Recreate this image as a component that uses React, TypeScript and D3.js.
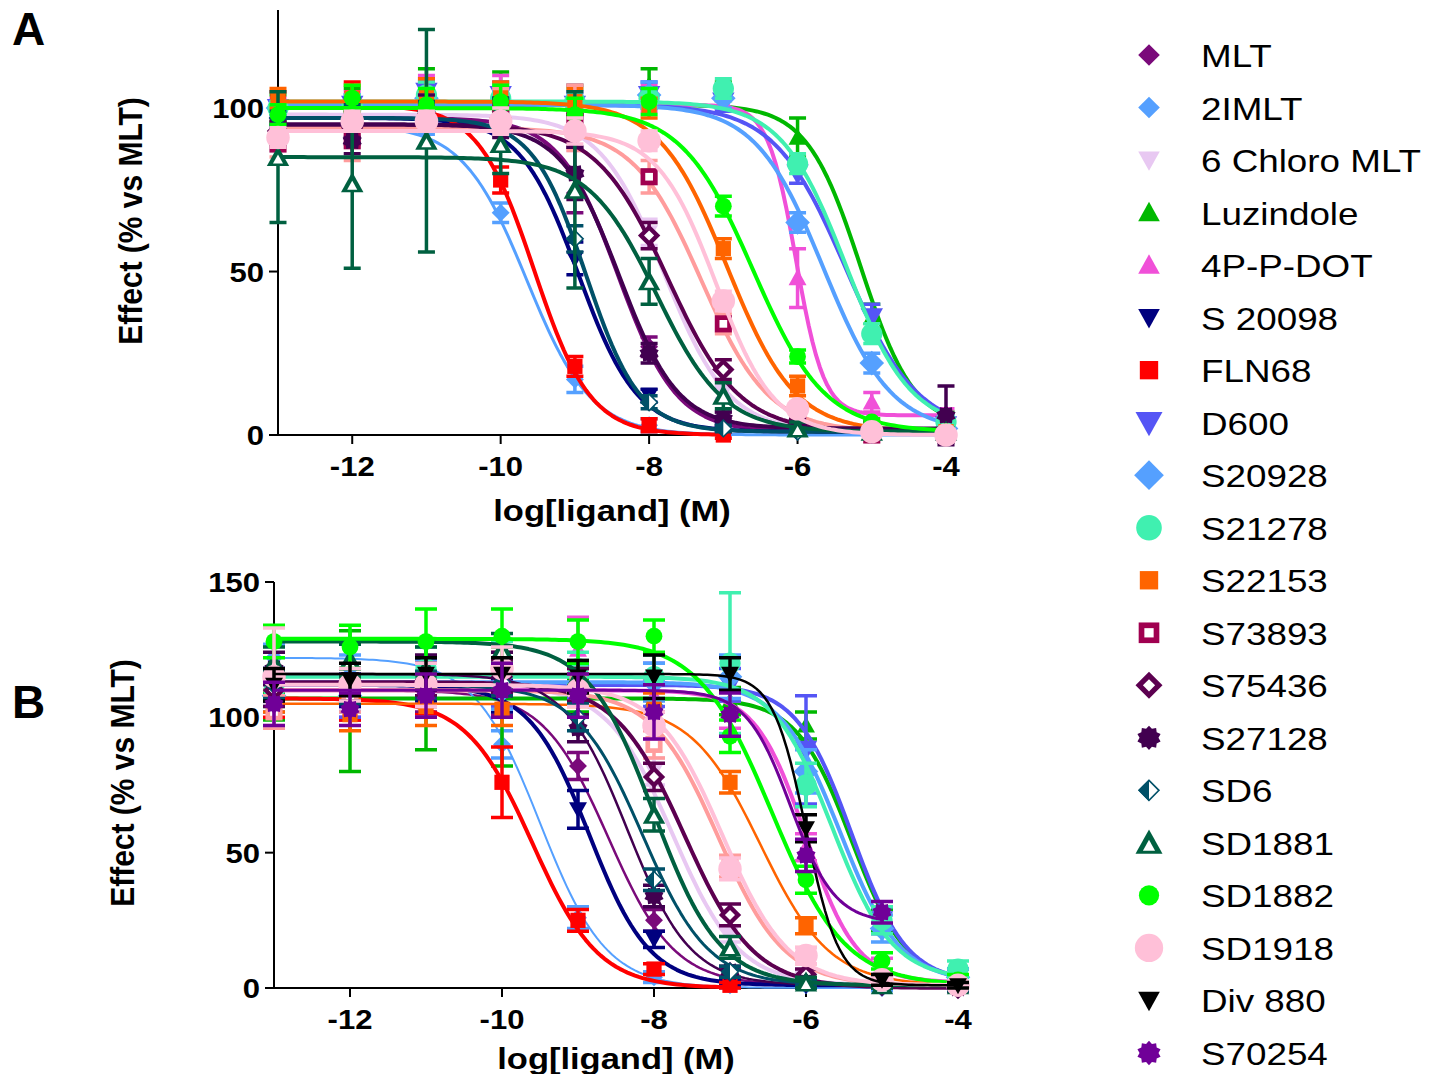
import { useEffect, useRef } from 'react';
import * as d3 from 'd3';

// compounds, same order as the legend
const compounds = [
  'MLT', '2IMLT', '6 Chloro MLT', 'Luzindole', '4P-P-DOT', 'S 20098', 'FLN68', 'D600',
  'S20928', 'S21278', 'S22153', 'S73893', 'S75436', 'S27128', 'SD6', 'SD1881',
  'SD1882', 'SD1918', 'Div 880', 'S70254',
];
const doses = [-13, -12, -11, -10, -9, -8, -7, -6, -5, -4];
const xTicks = [-12, -10, -8, -6, -4];
const yTicksA = [0, 50, 100];
const yTicksB = [0, 50, 100, 150];

// panel A: mean effect (% vs MLT) at each dose
const effectA: Record<string, (number | null)[]> = {
  'MLT': [96, 94, 103, 99, 74, 27, 5, 2, 1, 0],
  '2IMLT': [95, 94, 95, 68, 17, 3, 1, 1, 0, 0],
  '6 Chloro MLT': [98, 97, 99, 97, 90, 62, 13, 3, 1, 1],
  'Luzindole': [100, 101, 106, 106, 101, 107, 104, 91, 36, 4],
  '4P-P-DOT': [100, 101, 104, 104, 101, 103, 102, 48, 10, 6],
  'S 20098': [97, 97, 98, 99, 54, 12, 2, 1, 1, 0],
  'FLN68': [102, 103, 101, 78, 21, 3, 0, null, null, null],
  'D600': [100, 101, 105, 104, 101, 104, 102, 80, 36, 3],
  'S20928': [100, 101, 103, 102, 101, 104, 103, 65, 22, 2],
  'S21278': [100, 101, 104, 103, 102, 103, 106, 83, 31, 4],
  'S22153': [103, 103, 104, 104, 102, 100, 57, 15, 2, 1],
  'S73893': [89, 90, 96, 100, 97, 79, 34, 5, 0, 0],
  'S75436': [93, 94, 97, 97, 93, 61, 20, 3, 1, 0],
  'S27128': [92, 90, 99, 97, 80, 25, 5, 2, 2, 6],
  'SD6': [97, 98, 99, 100, 60, 10, 2, 1, 1, 1],
  'SD1881': [85, 77, 90, 89, 75, 47, 12, 2, 1, 1],
  'SD1882': [98, 103, 101, 102, 98, 102, 70, 24, 4, 1],
  'SD1918': [91, 96, 96, 96, 93, 90, 41, 8, 1, 0],
};
const semA: Record<string, number[]> = {
  'MLT': [4, 5, 5, 4, 6, 3, 2, 1, 1, 1],
  '2IMLT': [3, 3, 3, 3, 4, 2, 1, 1, 1, 1],
  '6 Chloro MLT': [3, 3, 3, 3, 3, 4, 2, 1, 1, 1],
  'Luzindole': [4, 5, 6, 5, 6, 5, 4, 6, 4, 3],
  '4P-P-DOT': [3, 4, 6, 6, 6, 4, 3, 9, 3, 2],
  'S 20098': [3, 3, 4, 4, 5, 2, 1, 1, 1, 1],
  'FLN68': [3, 5, 4, 4, 3, 2, 1],
  'D600': [2, 3, 4, 4, 4, 4, 3, 3, 4, 3],
  'S20928': [2, 3, 3, 3, 3, 4, 3, 3, 3, 2],
  'S21278': [2, 3, 4, 4, 4, 3, 3, 3, 3, 2],
  'S22153': [3, 4, 5, 4, 4, 3, 3, 3, 2, 1],
  'S73893': [4, 6, 8, 6, 10, 5, 3, 2, 1, 1],
  'S75436': [3, 3, 4, 3, 5, 4, 3, 2, 1, 1],
  'S27128': [3, 4, 5, 6, 8, 3, 2, 1, 2, 9],
  'SD6': [2, 3, 3, 3, 4, 2, 1, 1, 1, 1],
  'SD1881': [20, 26, 34, 9, 30, 7, 4, 2, 1, 1],
  'SD1882': [3, 4, 5, 5, 5, 4, 3, 2, 1, 1],
  'SD1918': [3, 3, 3, 4, 4, 3, 3, 2, 1, 1],
};
// fitted curves: [top, bottom, logIC50, hill slope]
const fitA: Record<string, number[]> = {
  'MLT': [97, 1, -8.42, 1.1],
  '2IMLT': [95, 0, -9.65, 1.0],
  '6 Chloro MLT': [98, 1, -7.8, 1.0],
  'Luzindole': [101, 2, -5.15, 1.2],
  '4P-P-DOT': [101, 6, -6.02, 2.3],
  'S 20098': [97, 1, -8.95, 1.1],
  'FLN68': [101, 0, -9.55, 1.15],
  'D600': [101, 1, -5.35, 0.9],
  'S20928': [101, 1, -5.65, 0.95],
  'S21278': [102, 2, -5.35, 1.0],
  'S22153': [102, 1, -6.95, 0.95],
  'S73893': [94, 1, -7.3, 0.95],
  'S75436': [95, 1, -7.75, 0.9],
  'S27128': [95, 2, -8.4, 1.1],
  'SD6': [97, 1, -8.85, 1.2],
  'SD1881': [85, 1, -7.9, 0.95],
  'SD1882': [100, 1, -6.6, 0.9],
  'SD1918': [93, 0, -7.1, 1.1],
};

// panel B
const effectB: Record<string, (number | null)[]> = {
  'MLT': [108, 105, 108, 109, 82, 25, 5, 2, 1, 0],
  '2IMLT': [122, 118, 116, 90, 26, 4, 1, 1, 0, 0],
  '6 Chloro MLT': [110, 108, 112, 112, 105, 80, 20, 4, 2, 1],
  'Luzindole': [104, 106, 108, 104, 108, 107, 106, 97, 25, 4],
  '4P-P-DOT': [108, 106, 110, 110, 125, 108, 101, 52, 8, 2],
  'S 20098': [112, 110, 114, 108, 66, 18, 2, 1, 1, 0],
  'FLN68': [105, 104, 106, 76, 25, 7, 1, null, null, null],
  'D600': [110, 106, 110, 112, 113, 112, 112, 88, 25, 4],
  'S20928': [108, 108, 112, 110, 112, 113, 115, 80, 22, 4],
  'S21278': [110, 112, 118, 120, 118, 115, 120, 75, 25, 7],
  'S22153': [108, 101, 104, 103, 110, 103, 76, 23, 2, 1],
  'S73893': [102, 108, 110, 118, 112, 90, 45, 12, 2, 1],
  'S75436': [110, 112, 114, 115, 112, 78, 27, 5, 1, 0],
  'S27128': [118, 112, 115, 116, 96, 34, 6, 2, 1, 0],
  'SD6': [112, 110, 112, 113, 100, 40, 6, 2, 1, 0],
  'SD1881': [120, 121, 118, 125, 115, 64, 15, 2, 1, 1],
  'SD1882': [128, 126, 128, 130, 128, 130, 93, 40, 10, 3],
  'SD1918': [115, 112, 112, 118, 110, 97, 44, 12, 3, 1],
  'Div 880': [112, 114, 116, 116, 115, 115, 116, 59, 3, 1],
  'S70254': [105, 103, 108, 110, 108, 102, 101, 49, 28, null],
};
const semB: Record<string, number[]> = {
  'MLT': [6, 6, 6, 8, 5, 4, 2, 1, 1, 1],
  '2IMLT': [5, 5, 5, 5, 4, 2, 1, 1, 1, 1],
  '6 Chloro MLT': [5, 5, 5, 5, 5, 5, 3, 2, 1, 1],
  'Luzindole': [5, 26, 20, 22, 6, 5, 5, 5, 4, 3],
  '4P-P-DOT': [6, 6, 6, 8, 12, 6, 5, 5, 3, 2],
  'S 20098': [6, 6, 8, 6, 7, 3, 1, 1, 1, 1],
  'FLN68': [5, 5, 5, 13, 4, 2, 1],
  'D600': [8, 6, 10, 8, 6, 8, 6, 20, 5, 3],
  'S20928': [6, 6, 8, 7, 6, 7, 8, 8, 5, 3],
  'S21278': [6, 6, 8, 8, 6, 8, 26, 8, 5, 3],
  'S22153': [6, 6, 7, 6, 6, 6, 4, 3, 2, 1],
  'S73893': [6, 6, 6, 6, 6, 5, 4, 3, 2, 1],
  'S75436': [6, 6, 6, 6, 6, 5, 4, 2, 1, 1],
  'S27128': [6, 6, 8, 8, 5, 4, 2, 1, 1, 1],
  'SD6': [5, 5, 5, 5, 5, 4, 2, 1, 1, 1],
  'SD1881': [6, 6, 8, 6, 6, 6, 4, 2, 1, 1],
  'SD1882': [6, 8, 12, 10, 8, 6, 6, 5, 3, 2],
  'SD1918': [18, 6, 8, 8, 6, 5, 4, 3, 2, 1],
  'Div 880': [6, 6, 6, 6, 6, 8, 6, 5, 2, 1],
  'S70254': [8, 6, 8, 10, 8, 10, 8, 6, 4],
};
const fitB: Record<string, number[]> = {
  'MLT': [110, 1, -8.6, 1.0],
  '2IMLT': [122, 0, -9.5, 1.0],
  '6 Chloro MLT': [112, 1, -7.75, 1.0],
  'Luzindole': [107, 2, -5.4, 1.2],
  '4P-P-DOT': [110, 2, -6.0, 1.3],
  'S 20098': [112, 1, -8.85, 1.1],
  'FLN68': [107, 0, -9.6, 1.0],
  'D600': [112, 2, -5.4, 1.2],
  'S20928': [113, 2, -5.55, 1.1],
  'S21278': [115, 3, -5.65, 1.1],
  'S22153': [105, 1, -6.6, 0.95],
  'S73893': [110, 1, -7.15, 1.0],
  'S75436': [113, 0, -7.6, 0.95],
  'S27128': [116, 1, -8.35, 1.05],
  'SD6': [112, 1, -8.15, 1.0],
  'SD1881': [128, 1, -8.0, 1.0],
  'SD1882': [129, 1, -6.45, 0.9],
  'SD1918': [112, 1, -7.1, 1.0],
  'Div 880': [116, 1, -6.0, 2.0],
  'S70254': [110, 24, -6.2, 1.5],
};

// styles
const markerColor = [
  '#7A0A7A', '#55A0FF', '#E8C8F2', '#00B800', '#F050D8', '#00007F', '#FF0000', '#5555F5',
  '#55A0FF', '#40F0B0', '#FF6400', '#A00050', '#5C0050', '#420050', '#005068', '#006040',
  '#00FF00', '#FFC0D8', '#000000', '#700098',
];
const lineColor = markerColor.map((c, i) => (compounds[i] === 'S73893' ? '#FF9C9C' : c));
const markerShape = [
  'diamond', 'diamond', 'triDown', 'tri', 'tri', 'triDown', 'square', 'triDown',
  'diamond', 'circle', 'square', 'openSquare', 'openDiamond', 'burst', 'halfDiamond', 'openTri',
  'circle', 'circle', 'triDown', 'burst',
];
const markerSize = [8, 8, 8, 8, 8, 8, 8, 10, 11, 9.5, 8, 9, 10, 9, 8, 10, 7.5, 10.5, 8, 9];
const lineWidthA = [4, 3, 4, 4, 4, 4, 4, 4, 4, 4, 4, 4, 4, 4, 4, 4, 4, 4, 4, 4];
const lineWidthB = [2.5, 2, 4, 4, 4, 4, 4, 4, 4, 4, 2.5, 4, 4, 2.5, 3, 4, 4, 4, 2.5, 3];

const font = "'Liberation Sans', Arial, Helvetica, sans-serif";

function markerPath(shape: string, r: number): string {
  switch (shape) {
    case 'diamond':
    case 'openDiamond':
    case 'halfDiamond':
      return `M0,${-r}L${r},0L0,${r}L${-r},0Z`;
    case 'square':
    case 'openSquare': {
      const s = r * 0.85;
      return `M${-s},${-s}H${s}V${s}H${-s}Z`;
    }
    case 'tri':
    case 'openTri':
      return `M0,${-r}L${r},${r * 0.8}L${-r},${r * 0.8}Z`;
    case 'triDown':
      return `M0,${r}L${r},${-r * 0.8}L${-r},${-r * 0.8}Z`;
    case 'burst': {
      const pts = d3.range(20).map((i) => {
        const a = (i * Math.PI) / 10;
        const rr = i % 2 === 0 ? r : r * 0.78;
        return [rr * Math.sin(a), -rr * Math.cos(a)];
      });
      return 'M' + pts.map((p) => p.join(',')).join('L') + 'Z';
    }
    default:
      return `M${r},0A${r},${r} 0 1,1 ${-r},0A${r},${r} 0 1,1 ${r},0Z`;
  }
}

function drawMarker(g: any, shape: string, r: number, color: string) {
  if (shape === 'halfDiamond') {
    g.append('path').attr('d', markerPath(shape, r * 0.92)).attr('fill', '#fff')
      .attr('stroke', color).attr('stroke-width', 1.6);
    g.append('path').attr('d', `M0,${-r}L${-r},0L0,${r}Z`).attr('fill', color);
    return;
  }
  g.append('path').attr('d', markerPath(shape, r)).attr('fill', color);
  if (shape.startsWith('open')) {
    const inner = g.append('path').attr('d', markerPath(shape, r * 0.45)).attr('fill', '#fff');
    if (shape === 'openTri') inner.attr('transform', `translate(0,${r * 0.22})`);
  }
}

export default function App() {
  const svgRef = useRef<SVGSVGElement>(null);

  useEffect(() => {
    if (!svgRef.current) return;
    const svg = d3.select(svgRef.current);
    svg.selectAll('*').remove();

    const stretched = (x: number, y: number, txt: string, size: number, weight: string, anchor: string) => {
      svg.append('text')
        .attr('transform', `translate(${x},${y}) scale(1.15,1)`)
        .attr('text-anchor', anchor)
        .attr('font-family', font)
        .attr('font-size', size)
        .attr('font-weight', weight)
        .attr('fill', '#000')
        .text(txt);
    };

    const panels = [
      { letter: 'A', letterY: 45, left: 278, right: 946, top: 10, bottom: 435, yMax: 130, yTicks: yTicksA,
        titleX: 130, titleY: 221, xTitleY: 521, effect: effectA, sem: semA, fit: fitA, widths: lineWidthA,
        cap: 8.5, override: {} as Record<string, string> },
      { letter: 'B', letterY: 718, left: 274, right: 958, top: 582, bottom: 988, yMax: 150, yTicks: yTicksB,
        titleX: 122, titleY: 783, xTitleY: 1069, effect: effectB, sem: semB, fit: fitB, widths: lineWidthB,
        cap: 11, override: { 'S73893': '#FF9C9C' } as Record<string, string> },
    ];

    panels.forEach((p) => {
      const x = d3.scaleLinear().domain([-13, -4]).range([p.left, p.right]);
      const y = d3.scaleLinear().domain([0, p.yMax]).range([p.bottom, p.top]);

      // panel letter
      svg.append('text').attr('x', 12).attr('y', p.letterY)
        .attr('font-family', font).attr('font-size', 46).attr('font-weight', 'bold')
        .text(p.letter);

      // axes
      svg.append('line').attr('x1', p.left).attr('x2', p.left).attr('y1', p.top).attr('y2', p.bottom)
        .attr('stroke', '#000').attr('stroke-width', 2);
      svg.append('line').attr('x1', p.left).attr('x2', p.right).attr('y1', p.bottom).attr('y2', p.bottom)
        .attr('stroke', '#000').attr('stroke-width', 2);
      p.yTicks.forEach((t) => {
        svg.append('line').attr('x1', p.left - 9).attr('x2', p.left).attr('y1', y(t)).attr('y2', y(t))
          .attr('stroke', '#000').attr('stroke-width', 2);
        stretched(p.left - 14, y(t) + 10, String(t), 27, 'bold', 'end');
      });
      xTicks.forEach((t) => {
        svg.append('line').attr('x1', x(t)).attr('x2', x(t)).attr('y1', p.bottom).attr('y2', p.bottom + 9)
          .attr('stroke', '#000').attr('stroke-width', 2);
        stretched(x(t), p.bottom + 41, String(t), 27, 'bold', 'middle');
      });
      stretched((p.left + p.right) / 2, p.xTitleY, 'log[ligand] (M)', 30, 'bold', 'middle');
      svg.append('text')
        .attr('transform', `translate(${p.titleX},${p.titleY}) scale(1.1,1) rotate(-90)`)
        .attr('text-anchor', 'middle').attr('dy', '0.36em')
        .attr('font-family', font).attr('font-size', 30).attr('font-weight', 'bold')
        .text('Effect (% vs MLT)');

      const line = d3.line<number[]>().x((d) => x(d[0])).y((d) => y(d[1]));

      compounds.forEach((name, ci) => {
        const vals = p.effect[name];
        if (!vals) return;
        const errs = p.sem[name];
        const [top, bottom, ic50, hill] = p.fit[name];
        const g = svg.append('g');
        const lc = lineColor[ci];
        const mc = p.override[name] || markerColor[ci];
        const pts = doses.map((d, i) => [d, vals[i]] as [number, number | null])
          .filter((d) => d[1] !== null) as number[][];

        // error bars
        pts.forEach((d, i) => {
          const e = errs[i] || 0;
          if (e <= 0) return;
          const cx = x(d[0]);
          g.append('path')
            .attr('d', `M${cx},${y(d[1] - e)}V${y(d[1] + e)}M${cx - p.cap},${y(d[1] + e)}H${cx + p.cap}M${cx - p.cap},${y(d[1] - e)}H${cx + p.cap}`)
            .attr('stroke', lc).attr('stroke-width', 3.5).attr('fill', 'none');
        });

        // fitted curve over the tested range
        const xs = d3.range(pts[0][0], pts[pts.length - 1][0] + 0.001, 0.05);
        const curve = xs.map((v) => [v, bottom + (top - bottom) / (1 + Math.pow(10, (v - ic50) * hill))]);
        g.append('path').attr('d', line(curve)).attr('fill', 'none')
          .attr('stroke', lc).attr('stroke-width', p.widths[ci]).attr('stroke-linejoin', 'round');

        pts.forEach((d) => {
          const mg = g.append('g').attr('transform', `translate(${x(d[0])},${y(d[1])})`);
          drawMarker(mg, markerShape[ci], markerSize[ci] * 1.12, mc);
        });
      });
    });

    // legend
    const ly = d3.scalePoint<string>().domain(compounds).range([55, 1053]);
    compounds.forEach((name, ci) => {
      const mg = svg.append('g').attr('transform', `translate(1149,${ly(name)})`);
      drawMarker(mg, markerShape[ci], markerSize[ci] * 1.35, markerColor[ci]);
      stretched(1201, (ly(name) as number) + 12, name, 32, 'normal', 'start');
    });
  }, []);

  return (
    <svg
      ref={svgRef}
      width={1445}
      height={1074}
      style={{ position: 'absolute', left: 0, top: 0, background: '#fff', display: 'block' }}
    />
  );
}
